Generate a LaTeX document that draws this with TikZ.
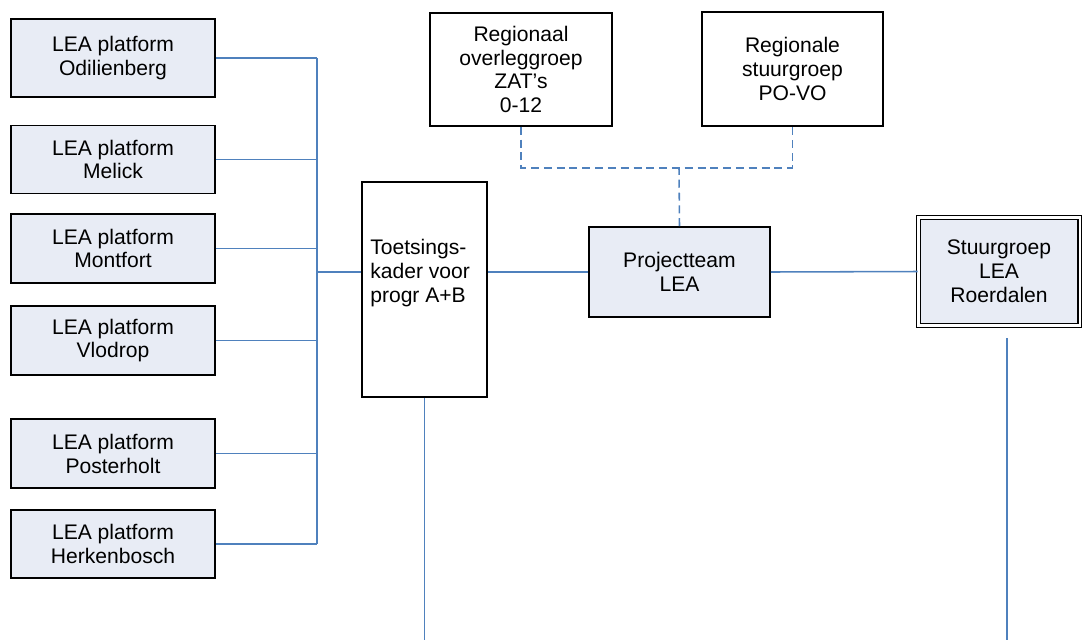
\documentclass[tikz,border=0pt]{standalone}
\usepackage{fontspec}
\setmainfont{Liberation Sans}
\definecolor{boxfill}{HTML}{E8ECF5}
\definecolor{linkblue}{HTML}{4F81BD}
\begin{document}
\begin{tikzpicture}[x=0.025cm, y=-0.025cm,
	lea box/.style={rectangle,draw,line width=1.2pt,fill=boxfill,align=center,
		font=\fontsize{15}{17}\selectfont},
	plain box/.style={rectangle,draw,line width=1.2pt,fill=white,align=center,
		font=\fontsize{15}{17}\selectfont},
	link/.style={draw=linkblue,line width=1.1pt},
	dash link/.style={draw=linkblue,line width=1.1pt,dash pattern=on 0.2cm off 0.12cm}
]

	\useasboundingbox (0,0) rectangle (1084,640);

	\def \busx {317};

	\foreach \place/\y/\h [count=\i] in {Odilienberg/58/1.95, Melick/159.5/1.7, Montfort/248.5/1.72,
		Vlodrop/340.5/1.72, Posterholt/453.5/1.72, Herkenbosch/544/1.7} {
		\node[lea box,minimum width=5.1cm,minimum height=\h cm] at (113,\y) (lea\i) {LEA platform\\\place};
	}

	\node[plain box,minimum width=3.125cm,minimum height=5.375cm] at (424.5,289.5) (toets) {};
	\node[anchor=north west,align=left,inner sep=0pt,font=\fontsize{15}{17}\selectfont]
		at (370,239) (toetstext) {Toetsings-\\kader voor\\progr A+B};

	\node[lea box,minimum width=4.525cm,minimum height=2.25cm] at (679.5,272) (proj) {Projectteam\\LEA};
	\node[plain box,minimum width=4.55cm,minimum height=2.825cm] at (521,69.5) (regio) {Regionaal\\overleggroep\\ZAT’s\\0-12};
	\node[plain box,minimum width=4.525cm,minimum height=2.85cm] at (792.5,69) (rstuur) {Regionale\\stuurgroep\\PO-VO};
	\node[lea box,line width=1pt,double,double distance=1.6pt,minimum width=4.03cm,minimum height=2.7cm]
		at (999,271.5) (stuur) {Stuurgroep\\LEA\\Roerdalen};

	\coordinate (bustop) at (\busx,58);
	\coordinate (dashmid) at (679,168);
	\coordinate (bottom) at (0,640);
	\coordinate (sgtop) at (1007,338);

	\foreach \i in {1,...,6} {
		\draw[link] (lea\i.east) -- (lea\i.east -| bustop);
	}
	\draw[link] (bustop) -- (bustop |- lea6.east);
	\draw[link] (bustop |- proj) -- (toets.west |- proj);
	\draw[link] (toets.east |- proj) -- (proj.west);
	\draw[link] (proj.east) -- (stuur.west);
	\draw[link] (toets.south) -- (toets.south |- bottom);
	\draw[link] (sgtop) -- (sgtop |- bottom);

	\draw[dash link] (regio.south) -- (regio.south |- dashmid) -- (rstuur.south |- dashmid) -- (rstuur.south);
	\draw[dash link] (proj.north) -- (dashmid);
\end{tikzpicture}
\end{document}
